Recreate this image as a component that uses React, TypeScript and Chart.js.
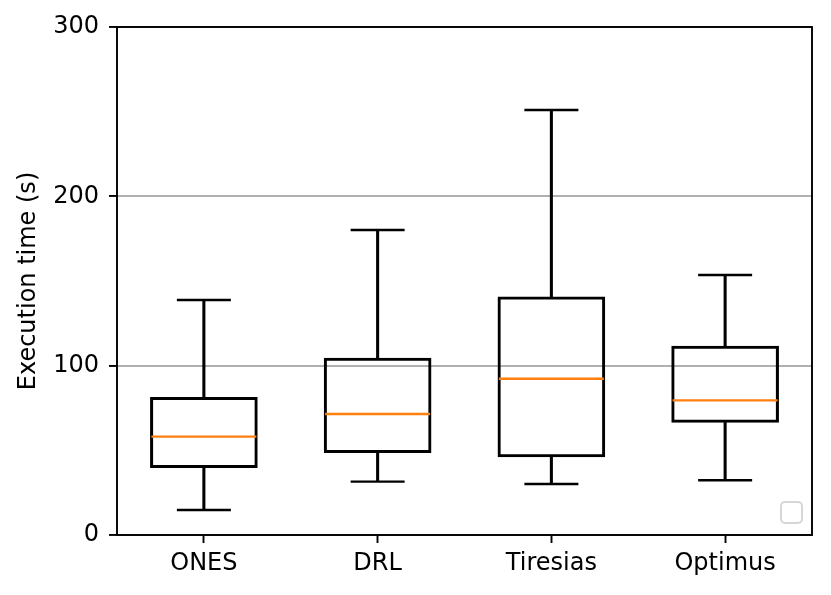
import React, { useEffect, useRef } from "react";
import { Chart, registerables } from "chart.js";

Chart.register(...registerables);

const categories = ["ONES", "DRL", "Tiresias", "Optimus"];
const whiskerLow = [14.8, 31.5, 30.1, 32.3];
const q1 = [39.7, 48.6, 46.1, 66.5];
const median = [58.1, 71.5, 92.3, 79.5];
const q3 = [81.3, 104.5, 140.7, 111.6];
const whiskerHigh = [138.8, 180.1, 251.0, 153.5];
const yTicks = [0, 100, 200, 300];

const FONT = "'DejaVu Sans', sans-serif";

const framePlugin = {
  id: "frame",
  afterDraw(chart: any) {
    const { ctx, chartArea } = chart;
    const { left, right, top, bottom } = chartArea;
    ctx.save();
    // empty legend box
    const w = 21, h = 21, r = 4;
    const lx = right - 31, ly = bottom - 33;
    ctx.strokeStyle = "#d6d6d6";
    ctx.lineWidth = 2;
    ctx.beginPath();
    ctx.roundRect(lx, ly, w, h, r);
    ctx.fillStyle = "rgba(255,255,255,0.8)";
    ctx.fill();
    ctx.stroke();
    // spines
    ctx.strokeStyle = "#000";
    ctx.lineWidth = 1.9;
    ctx.strokeRect(left, top, right - left, bottom - top);
    ctx.restore();
  },
};

const zeroPad = (s: any) => {
  s.paddingLeft = 0;
  s.paddingRight = 0;
  s.paddingTop = 0;
  s.paddingBottom = 0;
};

export default function App() {
  const ref = useRef<HTMLCanvasElement>(null);
  useEffect(() => {
    document.body.style.margin = "0";
    const ctx = ref.current!;
    const chart = new Chart(ctx, {
      type: "bar",
      data: {
        labels: categories,
        datasets: [
          {
            type: "line",
            label: "median",
            data: median,
            showLine: false,
            pointStyle: "line",
            pointRadius: 52.5,
            pointHoverRadius: 52.5,
            pointBorderWidth: 2.4,
            borderColor: "#ff7f0e",
            pointBorderColor: "#ff7f0e",
            order: 0,
          } as any,
          {
            type: "line",
            label: "cap low",
            data: whiskerLow,
            showLine: false,
            pointStyle: "line",
            pointRadius: 27,
            pointHoverRadius: 27,
            pointBorderWidth: 2.4,
            borderColor: "#000",
            pointBorderColor: "#000",
            order: 1,
          } as any,
          {
            type: "line",
            label: "cap high",
            data: whiskerHigh,
            showLine: false,
            pointStyle: "line",
            pointRadius: 27,
            pointHoverRadius: 27,
            pointBorderWidth: 2.4,
            borderColor: "#000",
            pointBorderColor: "#000",
            order: 1,
          } as any,
          {
            label: "box",
            data: categories.map((_, i) => [q1[i], q3[i]]),
            backgroundColor: "rgba(0,0,0,0)",
            borderColor: "#000",
            borderWidth: 2.4,
            borderSkipped: false,
            barThickness: 107,
            grouped: false,
            order: 2,
          } as any,
          {
            label: "whisker low",
            data: categories.map((_, i) => [whiskerLow[i], q1[i]]),
            backgroundColor: "#000",
            borderWidth: 0,
            barThickness: 2.4,
            grouped: false,
            order: 3,
          } as any,
          {
            label: "whisker high",
            data: categories.map((_, i) => [q3[i], whiskerHigh[i]]),
            backgroundColor: "#000",
            borderWidth: 0,
            barThickness: 2.4,
            grouped: false,
            order: 3,
          } as any,
        ],
      },
      options: {
        responsive: false,
        animation: false,
        layout: { autoPadding: false, padding: { left: 0, right: 19, top: 27, bottom: 0 } },
        plugins: {
          legend: { display: false },
          tooltip: { enabled: false },
        },
        scales: {
          x: {
            offset: true,
            grid: {
              display: true,
              offset: false,
              drawOnChartArea: false,
              tickColor: "#000",
              tickLength: 8,
              tickWidth: 1.9,
            },
            border: { display: false },
            ticks: {
              color: "#000",
              font: { family: FONT, size: 24 },
              padding: 6,
              maxRotation: 0,
            },
            afterFit: (s: any) => {
              s.height = 60;
              zeroPad(s);
            },
          },
          y: {
            min: 0,
            max: 300,
            afterBuildTicks: (s: any) => {
              s.ticks = yTicks.map((v) => ({ value: v }));
            },
            grid: {
              color: "#b0b0b0",
              lineWidth: 1.9,
              tickColor: "#000",
              tickLength: 8,
              tickWidth: 1.9,
            },
            border: { display: false },
            ticks: {
              color: "#000",
              font: { family: FONT, size: 24 },
              padding: 10,
            },
            title: {
              display: true,
              text: "Execution time (s)",
              color: "#000",
              font: { family: FONT, size: 24 },
              padding: { top: 14, bottom: 0 },
            },
            afterFit: (s: any) => {
              s.width = 117;
              zeroPad(s);
            },
          },
        },
      },
      plugins: [framePlugin],
    });
    return () => chart.destroy();
  }, []);
  return (
    <div style={{ width: 831, height: 595 }}>
      <canvas ref={ref} width={831} height={595} />
    </div>
  );
}
